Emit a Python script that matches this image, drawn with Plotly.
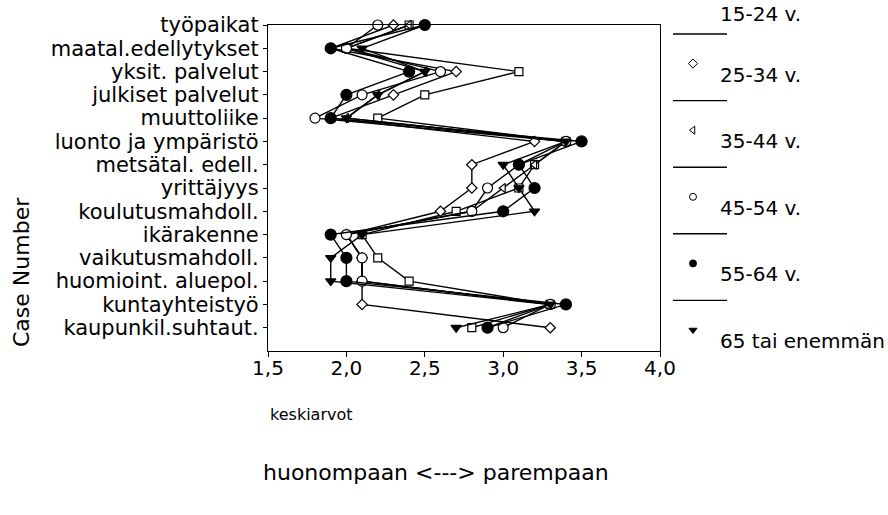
import plotly.graph_objects as go

# Kategoriat (y-akseli) ylhäältä alas
kategoriat = ['työpaikat', 'maatal.edellytykset', 'yksit. palvelut', 'julkiset palvelut',
              'muuttoliike', 'luonto ja ympäristö', 'metsätal. edell.', 'yrittäjyys',
              'koulutusmahdoll.', 'ikärakenne', 'vaikutusmahdoll.', 'huomioint. aluepol.',
              'kuntayhteistyö', 'kaupunkil.suhtaut.']

ikaryhmat = ['15-24 v.', '25-34 v.', '35-44 v.', '45-54 v.', '55-64 v.', '65 tai enemmän']

# Keskiarvot ikäryhmittäin (luettu kuvasta)
v15_24 = [2.4, 2.0, 3.1, 2.5, 2.2, 3.4, 3.2, 3.1, 2.7, 2.1, 2.2, 2.4, 3.3, 2.8]
v25_34 = [2.3, 1.9, 2.7, 2.3, 1.9, 3.2, 2.8, 2.8, 2.6, 2.0, 2.1, 2.1, 2.1, 3.3]
v35_44 = [2.4, 2.0, 2.5, 2.2, 2.0, 3.4, 3.2, 3.0, 2.8, 2.0, 2.1, 2.1, 3.3, 2.9]
v45_54 = [2.2, 2.0, 2.6, 2.1, 1.8, 3.4, 3.1, 2.9, 2.8, 2.0, 2.1, 2.1, 3.3, 3.0]
v55_64 = [2.5, 1.9, 2.4, 2.0, 1.9, 3.5, 3.1, 3.2, 3.0, 1.9, 2.0, 2.0, 3.4, 2.9]
v65 = [2.5, 2.1, 2.5, 2.2, 2.0, 3.4, 3.0, 3.1, 3.2, 2.1, 1.9, 1.9, 3.3, 2.7]

sarjat = [v15_24, v25_34, v35_44, v45_54, v55_64, v65]
symbolit = ['square', 'diamond', 'triangle-left', 'circle', 'circle', 'triangle-down']
tayttovarit = ['white', 'white', 'white', 'white', 'black', 'black']
koot = [8, 8, 8, 10, 11, 9]

x_ticks = [1.5, 2.0, 2.5, 3.0, 3.5, 4.0]

W, H = 888, 515
fontti = 'DejaVu Sans'

fig = go.Figure()

rivit = list(range(len(kategoriat)))
for nimi, arvot, sym, vari, koko in zip(ikaryhmat, sarjat, symbolit, tayttovarit, koot):
    fig.add_trace(go.Scatter(
        x=arvot, y=rivit, mode='lines+markers', name=nimi,
        line=dict(color='black', width=1.4),
        marker=dict(symbol=sym, size=koko, color=vari, line=dict(color='black', width=1.2)),
        cliponaxis=False, showlegend=False))

# Oma selite oikealle (pikselikoordinaatit erillisellä akselilla)
ylin = -3
vali = 66.6
for k, (nimi, sym, vari) in enumerate(zip(ikaryhmat, symbolit, tayttovarit)):
    m = ylin + vali * k
    fig.add_trace(go.Scatter(
        x=[693], y=[m], mode='markers', xaxis='x2', yaxis='y2',
        marker=dict(symbol=sym, size=7, color=vari, line=dict(color='black', width=1)),
        cliponaxis=False, showlegend=False))
    if k == 0:
        # ylin teksti kokonaan näkyviin
        fig.add_annotation(x=718, y=0, xref='x2', yref='y2', text=nimi,
                           showarrow=False, xanchor='left', yanchor='top',
                           font=dict(size=20, family=fontti, color='black'))
    else:
        fig.add_annotation(x=718, y=m + 11, xref='x2', yref='y2', text=nimi,
                           showarrow=False, xanchor='left', yanchor='middle',
                           font=dict(size=20, family=fontti, color='black'))
    if k < len(ikaryhmat) - 1:
        fig.add_trace(go.Scatter(
            x=[673, 727], y=[m + 37, m + 37], mode='lines', xaxis='x2', yaxis='y2',
            line=dict(color='black', width=1.4), cliponaxis=False, showlegend=False))

# Akseliotsikot ja selitteet
fig.add_annotation(x=21, y=272, xref='x2', yref='y2', text='Case Number', textangle=-90,
                   showarrow=False, font=dict(size=22, family=fontti, color='black'))
fig.add_annotation(x=268, y=414, xref='x2', yref='y2', text='keskiarvot', xanchor='left',
                   showarrow=False, font=dict(size=16, family=fontti, color='black'))
fig.add_annotation(x=436, y=472, xref='x2', yref='y2', text='huonompaan <---> parempaan',
                   showarrow=False, font=dict(size=22, family=fontti, color='black'))

fig.update_layout(
    width=W, height=H,
    margin=dict(l=0, r=0, t=0, b=0),
    paper_bgcolor='white', plot_bgcolor='rgba(0,0,0,0)',
    separators=', ',
    font=dict(family=fontti, size=20, color='black'),
    xaxis=dict(domain=[268 / W, 660 / W], range=[1.5, 4.0], tickvals=x_ticks,
               tickformat='.1f', ticks='outside', ticklen=5, tickcolor='black',
               ticklabelstandoff=-6,
               showline=True, linecolor='black', linewidth=1.2, mirror=True,
               showgrid=False, zeroline=False, anchor='y', automargin=False,
               tickfont=dict(size=20, family=fontti)),
    yaxis=dict(domain=[1 - 351 / H, 1 - 25 / H], range=[14, 0], tickvals=rivit,
               ticktext=kategoriat, ticks='outside', ticklen=4, tickcolor='black',
               showline=True, linecolor='black', linewidth=1.2, mirror=True,
               showgrid=False, zeroline=False, anchor='x', automargin=False,
               tickfont=dict(size=21, family=fontti)),
    xaxis2=dict(domain=[0, 1], range=[0, W], visible=False, anchor='y2', automargin=False),
    yaxis2=dict(domain=[0, 1], range=[H, 0], visible=False, anchor='x2', automargin=False),
)

# sivun oletusmarginaali pois, jotta kuva alkaa kulmasta
fig.write_html('out.html', config={'displayModeBar': False},
               post_script="document.body.style.margin='0px';")
